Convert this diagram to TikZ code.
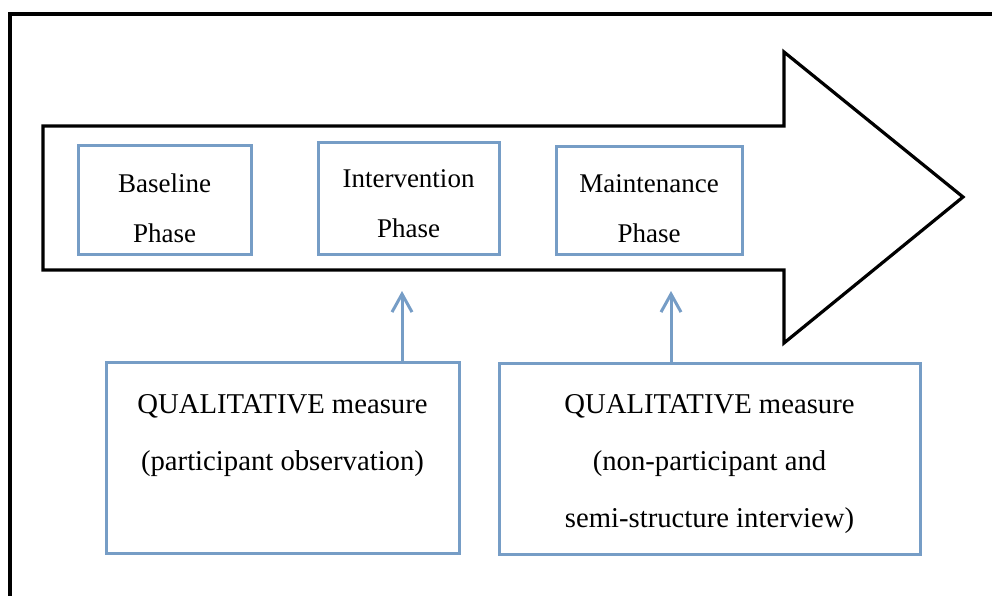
\documentclass[tikz,border=0pt]{standalone}
\usepackage{fontspec}
\setmainfont{Liberation Serif}
\usetikzlibrary{arrows.meta}
\definecolor{boxblue}{RGB}{118,157,198}
\begin{document}
\begin{tikzpicture}[x=1pt,y=-1pt,
  blackline/.style={draw=black,line width=3.2pt,line join=miter},
  bluebox/.style={draw=boxblue,line width=3pt,rectangle,inner sep=0pt},
  smalltxt/.style={font=\fontsize{27}{27}\selectfont,anchor=base,inner sep=0pt},
  bigtxt/.style={font=\fontsize{28.7}{28.7}\selectfont,anchor=base,inner sep=0pt},
  bluearrow/.style={draw=boxblue,line width=3pt,-{Straight Barb[length=18pt,width=20pt]}}]
\useasboundingbox (0,0) rectangle (992,595);
\begin{scope}
  \clip (0,0) rectangle (992,595);
  \draw[blackline] (10,620) -- (10,14) -- (1020,14);
\end{scope}
% big arrow
\draw[blackline] (43,126) -- (784,126) -- (784,52) -- (963,197) -- (784,343) -- (784,270) -- (43,270) -- cycle;
% phase boxes
\node[bluebox,minimum width=173pt,minimum height=109pt] (b1) at (164.5,199.5) {};
\node[bluebox,minimum width=181pt,minimum height=112pt] (b2) at (408.5,198) {};
\node[bluebox,minimum width=186pt,minimum height=108pt] (b3) at (649,200) {};
\node[smalltxt] (b1a) at (164.5,192) {Baseline};
\node[smalltxt] (b1b) at (164.5,242) {Phase};
\node[smalltxt] (b2a) at (408.5,187) {Intervention};
\node[smalltxt] (b2b) at (408.5,237) {Phase};
\node[smalltxt] (b3a) at (649,192) {Maintenance};
\node[smalltxt] (b3b) at (649,242) {Phase};
% measure boxes
\node[bluebox,minimum width=353pt,minimum height=191pt] (q1) at (282.5,457.5) {};
\node[bluebox,minimum width=421pt,minimum height=191pt] (q2) at (709.5,458.5) {};
\node[bigtxt] (q1a) at (282.5,413) {QUALITATIVE measure};
\node[bigtxt] (q1b) at (282.5,470) {(participant observation)};
\node[bigtxt] (q2a) at (709.5,413) {QUALITATIVE measure};
\node[bigtxt] (q2b) at (709.5,470) {(non-participant and};
\node[bigtxt] (q2c) at (709.5,527) {semi-structure interview)};
% arrows
\coordinate (a1) at (402,291);
\coordinate (a2) at (671,291);
\draw[bluearrow] (q1.north -| a1) -- (a1);
\draw[bluearrow] (q2.north -| a2) -- (a2);
\end{tikzpicture}
\end{document}
